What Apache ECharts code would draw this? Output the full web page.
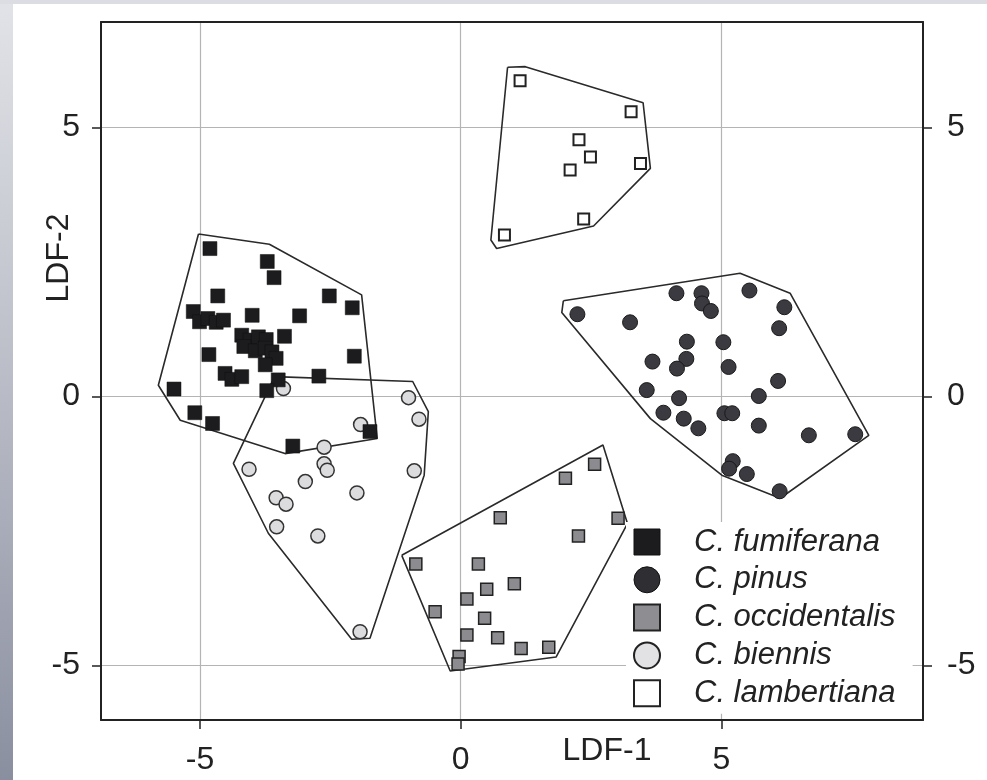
<!DOCTYPE html>
<html>
<head>
<meta charset="utf-8">
<script src="https://cdn.jsdelivr.net/npm/echarts@6/dist/echarts.min.js"></script>
<style>
  html, body { margin: 0; padding: 0; width: 987px; height: 780px; overflow: hidden;
    background: linear-gradient(to bottom, #e2e3e8 0%, #b9bcc6 50%, #8a8fa0 100%); }
  #topstrip { position: absolute; left: 0; top: 0; width: 987px; height: 4px; background: #dcdde2; }
  #paper { position: absolute; left: 13px; top: 4px; width: 974px; height: 776px; background: #ffffff; }
  #chart { position: absolute; left: 0; top: 0; width: 987px; height: 780px; }
</style>
</head>
<body>
<div id="topstrip"></div>
<div id="paper"></div>
<div id="chart"></div>
<script>
// ---- tick labels ----
const xTicks = [-5, 0, 5];
const yTicks = [-5, 0, 5];
const xTitle = 'LDF-1';
const yTitle = 'LDF-2';
const speciesNames = ['C. fumiferana', 'C. pinus', 'C. occidentalis', 'C. biennis', 'C. lambertiana'];

// ---- points [LDF-1, LDF-2] ----
const fumiferana = [
  [-4.81,2.75],[-3.71,2.51],[-3.58,2.21],[-4.66,1.87],[-2.52,1.87],[-2.08,1.65],[-3.09,1.50],[-4.00,1.51],
  [-5.13,1.58],[-5.01,1.39],[-4.85,1.45],[-4.69,1.38],[-4.55,1.42],[-3.38,1.12],[-4.20,1.14],[-4.04,1.05],
  [-3.88,1.11],[-3.73,1.06],[-4.16,0.93],[-3.94,0.85],[-3.75,0.90],[-3.62,0.83],[-3.54,0.71],[-3.75,0.59],
  [-4.83,0.78],[-2.04,0.75],[-4.52,0.43],[-4.39,0.32],[-4.20,0.37],[-3.50,0.31],[-2.72,0.38],[-3.72,0.11],
  [-5.50,0.14],[-5.10,-0.30],[-4.76,-0.50],[-3.22,-0.92],[-1.74,-0.65]
];
const pinus = [
  [2.24,1.53],[3.25,1.38],[4.14,1.92],[4.62,1.92],[4.63,1.73],[4.80,1.59],[5.54,1.97],[6.21,1.66],
  [6.11,1.27],[4.34,1.02],[5.04,1.01],[3.68,0.65],[4.33,0.70],[4.15,0.52],[5.14,0.55],[6.09,0.29],
  [3.57,0.12],[4.19,-0.03],[5.72,0.01],[3.89,-0.30],[4.28,-0.41],[4.56,-0.59],[5.06,-0.31],[5.21,-0.31],
  [5.72,-0.54],[6.68,-0.72],[7.57,-0.70],[5.22,-1.20],[5.15,-1.34],[5.49,-1.44],[6.12,-1.76]
];
const occidentalis = [
  [2.57,-1.26],[2.01,-1.52],[0.76,-2.25],[3.02,-2.26],[2.26,-2.59],[-0.86,-3.11],[0.34,-3.11],[0.50,-3.58],
  [1.03,-3.48],[0.12,-3.76],[-0.49,-4.00],[0.46,-4.12],[0.12,-4.43],[0.71,-4.48],[1.16,-4.68],[1.69,-4.66],
  [-0.03,-4.83],[-0.05,-4.97]
];
const biennis = [
  [-3.40,0.15],[-1.00,-0.02],[-0.80,-0.42],[-1.92,-0.52],[-2.62,-0.94],[-2.62,-1.25],[-2.56,-1.37],[-4.06,-1.35],
  [-0.89,-1.38],[-2.98,-1.58],[-1.99,-1.79],[-3.54,-1.88],[-3.35,-2.00],[-3.53,-2.42],[-2.74,-2.59],[-1.93,-4.37]
];
const lambertiana = [
  [1.14,5.87],[3.27,5.29],[2.27,4.77],[2.49,4.45],[2.10,4.21],[3.45,4.33],[2.36,3.30],[0.84,3.00]
];

// ---- outline polygons (closed) ----
const hullFumiferana = [[-5.03,3.02],[-3.67,2.83],[-1.90,1.89],[-1.60,-0.78],[-3.37,-1.06],[-5.38,-0.44],[-5.80,0.21],[-5.03,3.02]];
const hullPinus = [[1.97,1.78],[5.36,2.29],[6.32,1.92],[7.83,-0.72],[6.13,-1.89],[5.01,-1.46],[3.64,-0.41],[1.94,1.56],[1.97,1.78]];
const hullOccidentalis = [[-1.13,-2.95],[2.73,-0.90],[3.20,-2.36],[1.83,-4.84],[-0.20,-5.10],[-1.13,-2.95]];
const hullBiennis = [[-3.57,0.37],[-0.92,0.28],[-0.62,-0.28],[-0.70,-1.46],[-1.74,-4.49],[-2.09,-4.51],[-3.69,-2.54],[-4.36,-1.24],[-3.57,0.37]];
const hullLambertiana = [[0.90,6.12],[1.24,6.13],[3.50,5.46],[3.64,4.24],[2.55,3.17],[0.69,2.75],[0.58,2.91],[0.90,6.12]];

const FONT = "'Liberation Sans', Arial, Helvetica, sans-serif";
const INK = '#222';

const chart = echarts.init(document.getElementById('chart'), null, {renderer: 'canvas'});

function hull(data) {
  return {
    type: 'line', data: data, symbol: 'none', silent: true, z: 1,
    lineStyle: { color: '#2a2a2a', width: 1.6 }, animation: false, legendHoverLink: false
  };
}
const SQ = 'path://M0,0H10V10H0Z';
const CIR = 'path://M10,5A5,5,0,1,1,0,5A5,5,0,1,1,10,5Z';

const option = {
  animation: false,
  backgroundColor: 'transparent',
  grid: { left: 101, top: 22, width: 822, height: 698, containLabel: false },
  xAxis: [
    {
      type: 'value', min: -6.9, max: 8.87, position: 'bottom',
      axisLine: { show: true, onZero: false, lineStyle: { color: '#222', width: 2 } },
      axisTick: { show: true, customValues: xTicks, length: 9, lineStyle: { color: '#222', width: 1.5 } },
      axisLabel: { customValues: xTicks, fontSize: 32, fontFamily: FONT, color: INK, margin: 24 },
      splitLine: { show: true, lineStyle: { color: '#b4b4b4', width: 1.2 } }
    },
    {
      type: 'value', min: -6.9, max: 8.87, position: 'top',
      axisLine: { show: true, onZero: false, lineStyle: { color: '#222', width: 2 } },
      axisTick: { show: false }, axisLabel: { show: false }, splitLine: { show: false }
    }
  ],
  yAxis: [
    {
      type: 'value', min: -6.01, max: 6.96, position: 'left',
      axisLine: { show: true, onZero: false, lineStyle: { color: '#222', width: 2 } },
      axisTick: { show: true, customValues: yTicks, length: 9, lineStyle: { color: '#222', width: 1.5 } },
      axisLabel: { customValues: yTicks, fontSize: 32, fontFamily: FONT, color: INK, margin: 21 },
      splitLine: { show: true, lineStyle: { color: '#b4b4b4', width: 1.2 } }
    },
    {
      type: 'value', min: -6.01, max: 6.96, position: 'right',
      axisLine: { show: true, onZero: false, lineStyle: { color: '#222', width: 2 } },
      axisTick: { show: true, customValues: yTicks, length: 9, lineStyle: { color: '#222', width: 1.5 } },
      axisLabel: { customValues: yTicks, fontSize: 32, fontFamily: FONT, color: INK, margin: 24 },
      splitLine: { show: false }
    }
  ],
  legend: {
    orient: 'vertical', left: 626, top: 522,
    padding: [4.5, 17, 5, 7],
    backgroundColor: '#ffffff',
    itemWidth: 26, itemHeight: 26, itemGap: 6.8,
    selectedMode: false,
    textStyle: { fontSize: 31, fontStyle: 'italic', fontFamily: FONT, color: INK, padding: [0, 0, 0, 29] },
    data: [
      { name: speciesNames[0], icon: SQ, itemStyle: { color: '#1c1c1e', borderColor: '#111', borderWidth: 1 } },
      { name: speciesNames[1], icon: CIR, itemStyle: { color: '#2e2e33', borderColor: '#111', borderWidth: 1 } },
      { name: speciesNames[2], icon: SQ, itemStyle: { color: '#8e8e92', borderColor: '#222', borderWidth: 2 } },
      { name: speciesNames[3], icon: CIR, itemStyle: { color: '#e2e2e4', borderColor: '#222', borderWidth: 2 } },
      { name: speciesNames[4], icon: SQ, itemStyle: { color: '#ffffff', borderColor: '#222', borderWidth: 2 } }
    ]
  },
  graphic: [
    { type: 'text', x: 607, y: 751, style: { text: xTitle, font: '32px ' + FONT, fill: INK, textAlign: 'center', textVerticalAlign: 'middle', x: 0, y: 0 }, z: 10 },
    { type: 'text', x: 59, y: 258, rotation: Math.PI / 2, style: { text: yTitle, font: '32px ' + FONT, fill: INK, textAlign: 'center', textVerticalAlign: 'middle', x: 0, y: 0 }, z: 10 }
  ],
  series: [
    hull(hullFumiferana), hull(hullPinus), hull(hullOccidentalis), hull(hullBiennis), hull(hullLambertiana),
    { name: speciesNames[3], type: 'scatter', data: biennis, symbol: 'circle', symbolSize: 14, z: 3,
      itemStyle: { color: '#dcdcde', borderColor: '#333', borderWidth: 1.5, opacity: 1 } },
    { name: speciesNames[0], type: 'scatter', data: fumiferana, symbol: 'rect', symbolSize: 14, z: 4,
      itemStyle: { color: '#1c1c1e', borderColor: '#111', borderWidth: 0.5, opacity: 1 } },
    { name: speciesNames[1], type: 'scatter', data: pinus, symbol: 'circle', symbolSize: 15, z: 3,
      itemStyle: { color: '#3a3a40', borderColor: '#1a1a1a', borderWidth: 1, opacity: 1 } },
    { name: speciesNames[2], type: 'scatter', data: occidentalis, symbol: 'rect', symbolSize: 12, z: 3,
      itemStyle: { color: '#8c8c90', borderColor: '#222', borderWidth: 1.5, opacity: 1 } },
    { name: speciesNames[4], type: 'scatter', data: lambertiana, symbol: 'rect', symbolSize: 11, z: 3,
      itemStyle: { color: '#ffffff', borderColor: '#222', borderWidth: 2, opacity: 1 } }
  ]
};
chart.setOption(option);
</script>
</body>
</html>
